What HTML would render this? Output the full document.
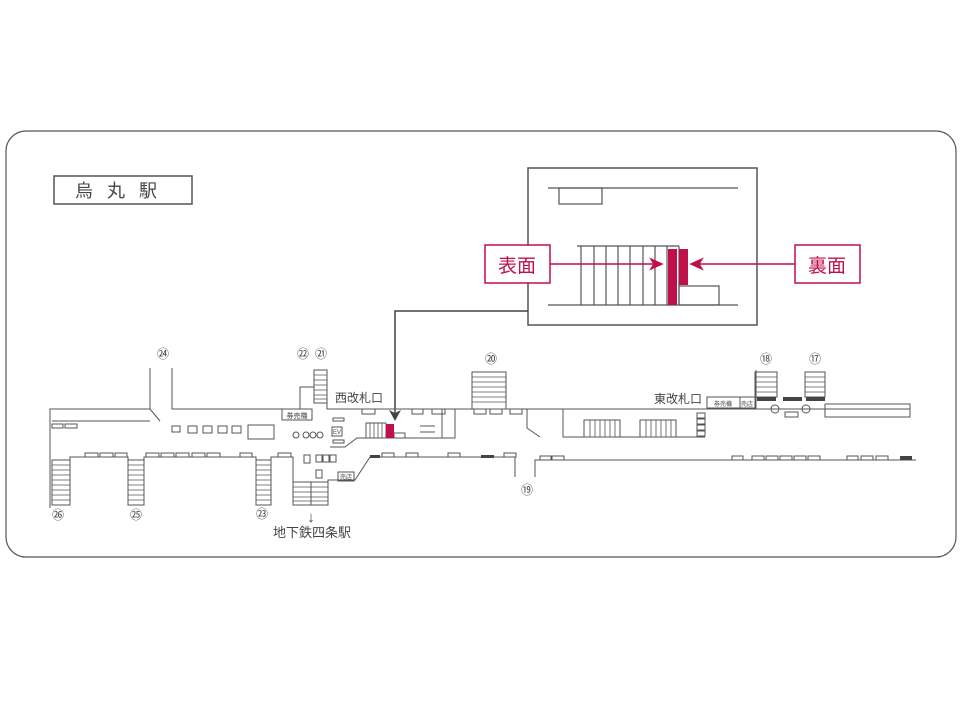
<!DOCTYPE html>
<html><head><meta charset="utf-8"><style>
html,body{margin:0;padding:0;background:#fff;}
svg{display:block;}
text{font-family:"Liberation Sans","Noto Sans CJK JP",sans-serif;}
</style></head><body>
<svg width="960" height="720" viewBox="0 0 960 720" xmlns="http://www.w3.org/2000/svg">
<rect x="6" y="131" width="950" height="426" rx="20" fill="#fff" stroke="#555" stroke-width="1.2"/>
<rect x="54" y="176" width="138" height="28" fill="#fff" stroke="#555" stroke-width="1.5"/>
<text x="123" y="197" font-size="18" fill="#444" text-anchor="middle" letter-spacing="14">烏丸駅</text>

<!-- inset -->
<rect x="528" y="168" width="229" height="157" fill="#fff" stroke="#555" stroke-width="1.5"/>
<g stroke="#555" stroke-width="1.2" fill="none">
<line x1="548" y1="188" x2="738" y2="188"/>
<rect x="559" y="188" width="43" height="16"/>
<line x1="577" y1="246" x2="679" y2="246"/>
<line x1="548" y1="305" x2="738" y2="305"/>
<rect x="679" y="286" width="40" height="19"/>
<line x1="581" y1="246" x2="581" y2="305"/><line x1="594" y1="246" x2="594" y2="305"/>
<line x1="606" y1="246" x2="606" y2="305"/><line x1="618" y1="246" x2="618" y2="305"/>
<line x1="630" y1="246" x2="630" y2="305"/><line x1="643" y1="246" x2="643" y2="305"/>
<line x1="655" y1="246" x2="655" y2="305"/><line x1="667" y1="246" x2="667" y2="305"/>
<line x1="679" y1="246" x2="679" y2="305"/>
</g>
<rect x="668" y="249" width="9" height="56" fill="#c0104a"/>
<rect x="679" y="249" width="9" height="36" fill="#c0104a"/>
<g stroke="#c0104a" stroke-width="1.5" fill="#c0104a">
<line x1="550" y1="264" x2="655" y2="264"/>
<polygon points="662,264 651,259 654,264 651,269"/>
<line x1="795" y1="264" x2="698" y2="264"/>
<polygon points="691,264 702,259 699,264 702,269"/>
</g>
<rect x="485" y="245" width="65" height="38" fill="#fff" stroke="#c0104a" stroke-width="1.5"/>
<text x="517" y="272" font-size="19" fill="#c0104a" text-anchor="middle">表面</text>
<rect x="795" y="245" width="65" height="38" fill="#fff" stroke="#c0104a" stroke-width="1.5"/>
<text x="827" y="272" font-size="19" fill="#c0104a" text-anchor="middle">裏面</text>

<!-- leader -->
<polyline points="528,311 395,311 395,414" fill="none" stroke="#444" stroke-width="1.5"/>
<polygon points="395,421 389,410 395,413 401,410" fill="#444"/>

<!-- plan -->
<g stroke="#555" stroke-width="1" fill="none">
<polyline points="150,368 150,409 50,409 50,508"/>
<polyline points="172,368 172,409 282,409"/>
<rect x="282" y="409" width="30" height="11"/>
<polyline points="300,409 300,387 314,387"/>
<polyline points="327,403 327,409 910,409"/>
<line x1="52" y1="421" x2="150" y2="421"/>
<line x1="150" y1="409" x2="160" y2="421"/>
<polyline points="70,505 70,457 128,457 128,505"/>
<polyline points="144,505 144,457 256,457 256,505"/>
<polyline points="271,505 271,457 293,457 293,505"/>
<polyline points="328,505 328,480 355,480 370,457 515,457 515,477"/>
<polyline points="535,477 535,460 916,460"/>
<polyline points="330,447 345,447 357,438 455,438 455,409"/>
<line x1="442" y1="409" x2="442" y2="438"/>
<polyline points="527,409 527,428 540,437"/>
<polyline points="563,409 563,437 705,437"/>
<rect x="825" y="404" width="85" height="13"/>
<rect x="707" y="397" width="48" height="11"/>
<line x1="740" y1="397" x2="740" y2="408"/>
<line x1="756" y1="370" x2="756" y2="409"/>
<rect x="172" y="426" width="8" height="6"/><rect x="188" y="426" width="9" height="7"/>
<rect x="203" y="426" width="9" height="7"/><rect x="218" y="426" width="9" height="7"/>
<rect x="232" y="426" width="9" height="7"/><rect x="248" y="425" width="26" height="14"/>
<rect x="52" y="424" width="11" height="4"/><rect x="65" y="424" width="12" height="4"/>
<rect x="85" y="453" width="13" height="4"/><rect x="100" y="453" width="13" height="4"/>
<rect x="115" y="453" width="12" height="4"/><rect x="146" y="453" width="13" height="4"/>
<rect x="161" y="453" width="13" height="4"/><rect x="176" y="453" width="13" height="4"/>
<rect x="192" y="453" width="13" height="4"/><rect x="207" y="453" width="13" height="4"/>
<rect x="240" y="453" width="12" height="4"/><rect x="278" y="453" width="13" height="4"/>
<rect x="382" y="453" width="12" height="4"/><rect x="406" y="453" width="12" height="4"/>
<rect x="448" y="453" width="12" height="4"/><rect x="504" y="453" width="12" height="4"/>
<rect x="540" y="456" width="11" height="4"/><rect x="552" y="456" width="12" height="4"/>
<rect x="732" y="456" width="11" height="4"/><rect x="752" y="456" width="12" height="4"/>
<rect x="766" y="456" width="12" height="4"/><rect x="780" y="456" width="12" height="4"/>
<rect x="794" y="456" width="12" height="4"/><rect x="808" y="456" width="12" height="4"/>
<rect x="847" y="456" width="11" height="4"/><rect x="861" y="456" width="12" height="4"/>
<rect x="876" y="456" width="12" height="4"/>
<rect x="362" y="409" width="13" height="5"/><rect x="412" y="409" width="11" height="5"/>
<rect x="432" y="409" width="13" height="5"/><rect x="474" y="409" width="12" height="5"/>
<rect x="490" y="409" width="12" height="5"/><rect x="510" y="409" width="12" height="5"/>
<rect x="785" y="412" width="13" height="5"/>
<rect x="697" y="413" width="8" height="5"/><rect x="697" y="419" width="8" height="5"/>
<rect x="697" y="425" width="8" height="5"/><rect x="697" y="431" width="8" height="5"/>
<circle cx="775" cy="409" r="4"/><circle cx="806" cy="409" r="4"/>
<rect x="338" y="472" width="16" height="9"/>
<rect x="332" y="427" width="10" height="9"/>
<rect x="333" y="418" width="11" height="3"/><rect x="333" y="440" width="11" height="3"/>
<circle cx="296" cy="435" r="3"/><circle cx="306" cy="435" r="3"/><circle cx="313" cy="435" r="3"/><circle cx="320" cy="435" r="3"/>
<rect x="304" y="455" width="6" height="8"/><rect x="316" y="455" width="6" height="7"/>
<rect x="323" y="455" width="6" height="7"/><rect x="330" y="455" width="6" height="7"/>
<rect x="316" y="470" width="6" height="8"/>
<rect x="366" y="423" width="20" height="15"/>
<rect x="394" y="433" width="11" height="5"/>
<rect x="314" y="370" width="13" height="33"/>
<rect x="472" y="372" width="34" height="37"/>
<rect x="755" y="372" width="22" height="25"/>
<rect x="805" y="372" width="20" height="25"/>
<rect x="52" y="460" width="18" height="45"/>
<rect x="128" y="460" width="16" height="45"/>
<rect x="256" y="460" width="15" height="45"/>
<rect x="293" y="482" width="35" height="23"/>
<line x1="311" y1="482" x2="311" y2="505"/>
<rect x="584" y="420" width="36" height="17"/><rect x="640" y="420" width="36" height="17"/>
<line x1="420" y1="426" x2="435" y2="426"/><line x1="420" y1="432" x2="435" y2="432"/>
</g>
<g stroke="#555" stroke-width="0.8">
<path d="M314 375h13M314 380h13M314 385h13M314 390h13M314 395h13M314 399h13"/>
<path d="M472 377h34M472 382h34M472 387h34M472 392h34M472 397h34M472 402h34"/>
<path d="M755 377h22M755 382h22M755 387h22M755 392h22M805 377h20M805 382h20M805 387h20M805 392h20"/>
<path d="M52 465h18M52 470h18M52 475h18M52 480h18M52 485h18M52 490h18M52 495h18M52 500h18"/>
<path d="M128 465h16M128 470h16M128 475h16M128 480h16M128 485h16M128 490h16M128 495h16M128 500h16"/>
<path d="M256 465h15M256 470h15M256 475h15M256 480h15M256 485h15M256 490h15M256 495h15M256 500h15"/>
<path d="M293 487h35M293 492h35M293 497h35M293 501h35"/>
<path d="M370 423v15M374 423v15M378 423v15M382 423v15"/>
<path d="M590 420v17M595 420v17M600 420v17M605 420v17M610 420v17M615 420v17M646 420v17M651 420v17M656 420v17M661 420v17M666 420v17M671 420v17"/>
</g>
<rect x="386" y="424" width="8" height="14" fill="#c0104a"/>
<g fill="#444">
<rect x="370" y="455" width="10" height="3"/><rect x="481" y="455" width="13" height="3"/>
<rect x="757" y="397" width="19" height="4"/><rect x="783" y="397" width="19" height="4"/>
<rect x="806" y="397" width="19" height="4"/><rect x="900" y="456" width="12" height="4"/>
</g>
<g font-size="12" fill="#444" text-anchor="middle">
<text x="163" y="358">㉔</text><text x="303" y="358">㉒</text><text x="321" y="358">㉑</text>
<text x="491" y="363">⑳</text><text x="766" y="363">⑱</text><text x="815" y="363">⑰</text>
<text x="527" y="494">⑲</text><text x="58" y="519">㉖</text><text x="136" y="519">㉕</text>
<text x="262" y="518">㉓</text>
</g>
<text x="335" y="402" font-size="12" fill="#444">西改札口</text>
<text x="654" y="403" font-size="12" fill="#444">東改札口</text>
<text x="297" y="418" font-size="7" fill="#444" text-anchor="middle">券売機</text>
<text x="723" y="406" font-size="6" fill="#444" text-anchor="middle">券売機</text>
<text x="747" y="406" font-size="6" fill="#444" text-anchor="middle">売店</text>
<text x="346" y="479" font-size="6" fill="#444" text-anchor="middle">売店</text>
<text x="337" y="434" font-size="6" fill="#444" text-anchor="middle">EV</text>
<text x="311" y="522" font-size="15" fill="#444" text-anchor="middle">↓</text>
<text x="312" y="537" font-size="13" fill="#444" text-anchor="middle">地下鉄四条駅</text>
</svg>
</body></html>
